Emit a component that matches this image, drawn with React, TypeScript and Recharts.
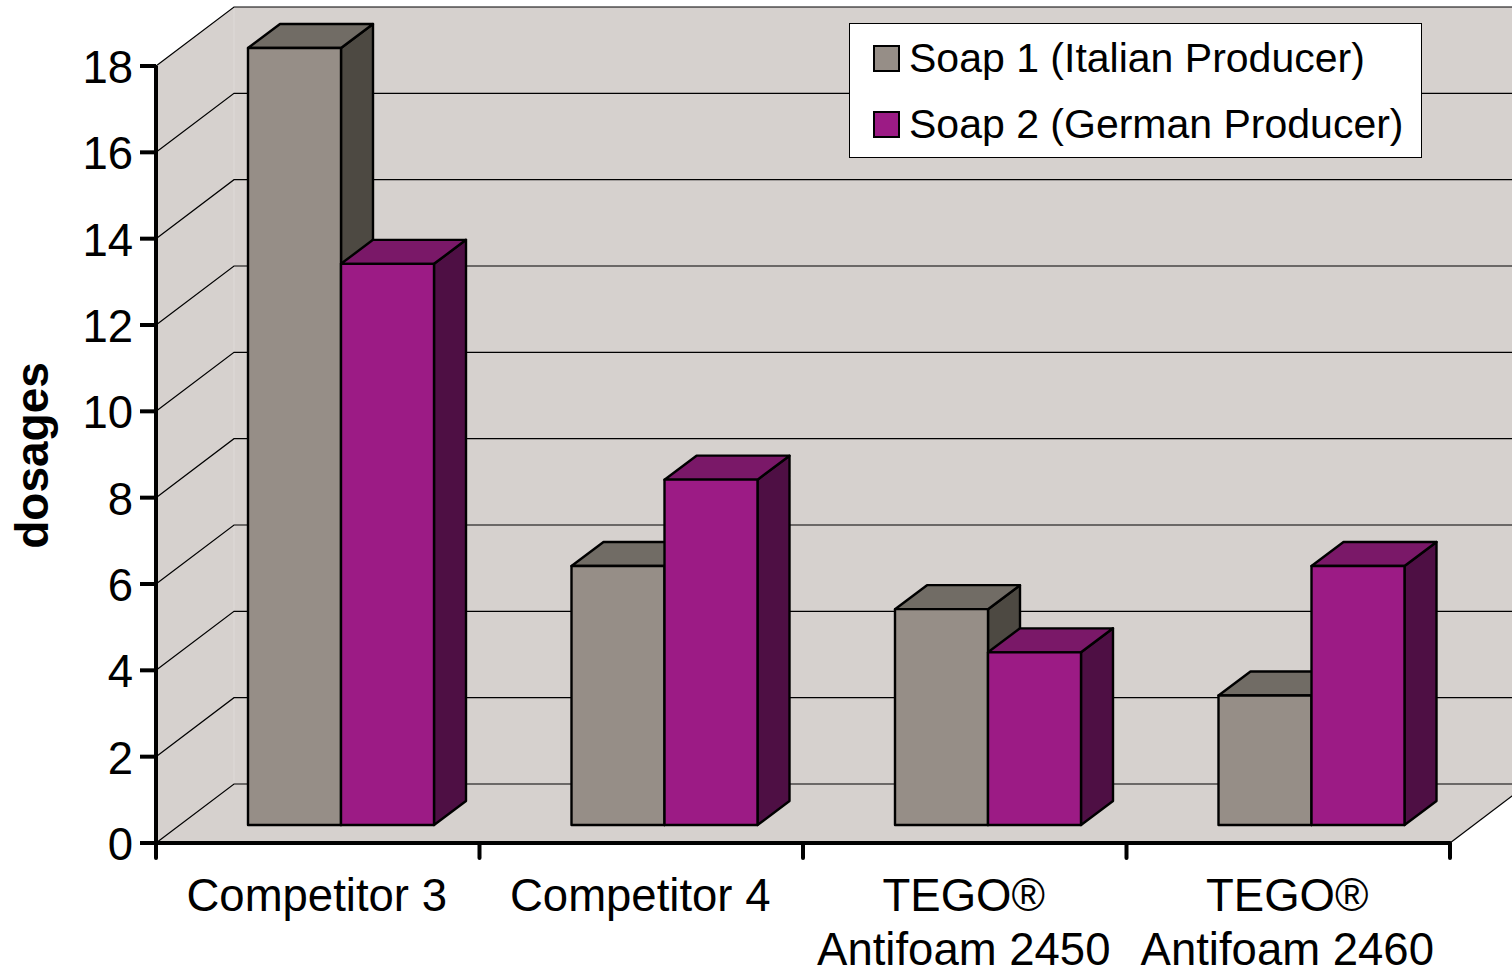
import React from 'react';
import { ComposedChart, Bar, XAxis, YAxis, CartesianGrid, Legend } from 'recharts';

const categories = ['Competitor 3', 'Competitor 4', 'TEGO® Antifoam 2450', 'TEGO® Antifoam 2460'];
const soap1 = [18, 6, 5, 3];
const soap2 = [13, 8, 4, 6];
const yTicks = [0, 2, 4, 6, 8, 10, 12, 14, 16, 18];
const tickLines: Record<string, string[]> = {
  'Competitor 3': ['Competitor 3'],
  'Competitor 4': ['Competitor 4'],
  'TEGO® Antifoam 2450': ['TEGO®', 'Antifoam 2450'],
  'TEGO® Antifoam 2460': ['TEGO®', 'Antifoam 2460'],
};
const data = categories.map((name, i) => ({ name, soap1: soap1[i], soap2: soap2[i] }));

const FONT = '"Liberation Sans", Arial, sans-serif';
const WALL_DX = 78;
const WALL_DY = -59;
const BAR_DX = 23;
const BAR_DY = -18;
const DEPTH_DX = 32;
const DEPTH_DY = -24;
const WALL = '#D6D1CE';

function pts(list: number[][]) {
  return list.map((p) => p.join(',')).join(' ');
}

function Bar3D(props: any, front: string, top: string, side: string) {
  const { x, y, width, height } = props;
  const l = x + BAR_DX;
  const r = l + width;
  const t = y + BAR_DY;
  const b = t + height;
  const common = { stroke: '#000', strokeWidth: 2.4, strokeLinejoin: 'round' as const };
  return (
    <g>
      <polygon points={pts([[r, t], [r + DEPTH_DX, t + DEPTH_DY], [r + DEPTH_DX, b + DEPTH_DY], [r, b]])} fill={side} {...common} />
      <polygon points={pts([[l, t], [l + DEPTH_DX, t + DEPTH_DY], [r + DEPTH_DX, t + DEPTH_DY], [r, t]])} fill={top} {...common} />
      <rect x={l} y={t} width={width} height={height} fill={front} {...common} />
    </g>
  );
}

function Wall({ x, y, width, height }: any) {
  const b = y + height;
  const r = x + width;
  return (
    <g>
      <polygon points={pts([[x, y], [x + WALL_DX, y + WALL_DY], [r + WALL_DX, y + WALL_DY], [r + WALL_DX, b + WALL_DY], [r, b], [x, b]])} fill={WALL} />
      <line x1={x + WALL_DX} y1={y + WALL_DY} x2={x + WALL_DX} y2={b + WALL_DY} stroke="#DEDAD8" strokeWidth={1} />
      <line x1={r} y1={b} x2={r + WALL_DX} y2={b + WALL_DY} stroke="#000" strokeWidth={1.2} />
    </g>
  );
}

function GridLine(props: any) {
  const { x1, x2, y1, index } = props;
  return (
    <g>
      {index === 0 ? <Wall {...props} /> : null}
      <polyline
        points={pts([[x1, y1], [x1 + WALL_DX, y1 + WALL_DY], [x2 + WALL_DX, y1 + WALL_DY]])}
        fill="none"
        stroke="#000"
        strokeWidth={1.2}
      />
    </g>
  );
}

function XTick(props: any) {
  const { x, y, payload, index, width } = props;
  const lines = tickLines[payload.value] || [payload.value];
  const half = width / categories.length / 2;
  const tick = (tx: number) => <line x1={tx} y1={y - 17} x2={tx} y2={y - 2} stroke="#000" strokeWidth={4} strokeLinecap="round" />;
  return (
    <g>
      {tick(x - half)}
      {index === categories.length - 1 ? tick(x + half) : null}
      {lines.map((s, i) => (
        <text key={s} x={x - 1} y={911 + i * 54} textAnchor="middle" fontSize={45.5} fontFamily={FONT} fill="#000">
          {s}
        </text>
      ))}
    </g>
  );
}

function LegendBox(props: any) {
  const items = props.payload || [];
  return (
    <div
      style={{
        width: 573,
        height: 135,
        boxSizing: 'border-box',
        background: '#fff',
        border: '1px solid #000',
        fontFamily: FONT,
        fontSize: 41,
        color: '#000',
        paddingLeft: 23,
        paddingTop: 1,
      }}
    >
      {items.map((it: any) => (
        <div key={it.value} style={{ display: 'flex', alignItems: 'center', height: 66, whiteSpace: 'nowrap' }}>
          <span
            style={{
              display: 'inline-block',
              width: 27,
              height: 27,
              boxSizing: 'border-box',
              background: it.color,
              border: '2px solid #000',
              marginRight: 9,
            }}
          />
          {it.value}
        </div>
      ))}
    </div>
  );
}

export default function App() {
  return (
    <div style={{ position: 'absolute', left: 0, top: 0, width: 1512, height: 971, overflow: 'hidden', background: '#fff' }}>
      <ComposedChart
        width={1512}
        height={971}
        data={data}
        barSize={93}
        barGap={0}
        margin={{ top: 66, right: 62, bottom: 0, left: 0 }}
      >
        <CartesianGrid vertical={false} horizontal={GridLine as any} syncWithTicks />
        <XAxis
          dataKey="name"
          height={128}
          tick={XTick}
          tickSize={15}
          interval={0}
          axisLine={{ stroke: '#000', strokeWidth: 4 }}
          tickLine={false}
        />
        <YAxis
          width={156}
          domain={[0, 18]}
          ticks={yTicks}
          interval={0}
          tickSize={16}
          tickMargin={7}
          tick={{ fontSize: 45.5, fill: '#000', fontFamily: FONT, dy: 1 }}
          axisLine={{ stroke: '#000', strokeWidth: 4 }}
          tickLine={{ stroke: '#000', strokeWidth: 4 }}
          label={() => (
            <text
              transform="translate(48,455.5) rotate(-90)"
              textAnchor="middle"
              fontSize={46}
              fontWeight="bold"
              fontFamily={FONT}
              fill="#000"
            >
              dosages
            </text>
          )}
        />
        <Legend
          layout="vertical"
          align="center"
          verticalAlign="middle"
          content={LegendBox}
          wrapperStyle={{ left: 849, top: 23, width: 573, height: 135, right: 'auto', bottom: 'auto' }}
        />
        <Bar
          dataKey="soap1"
          name="Soap 1 (Italian Producer)"
          fill="#968E87"
          isAnimationActive={false}
          shape={(p: any) => Bar3D(p, '#968E87', '#716C65', '#4D4942')}
        />
        <Bar
          dataKey="soap2"
          name="Soap 2 (German Producer)"
          fill="#9C1B85"
          isAnimationActive={false}
          shape={(p: any) => Bar3D(p, '#9C1B85', '#7A1868', '#4E0F44')}
        />
      </ComposedChart>
    </div>
  );
}
